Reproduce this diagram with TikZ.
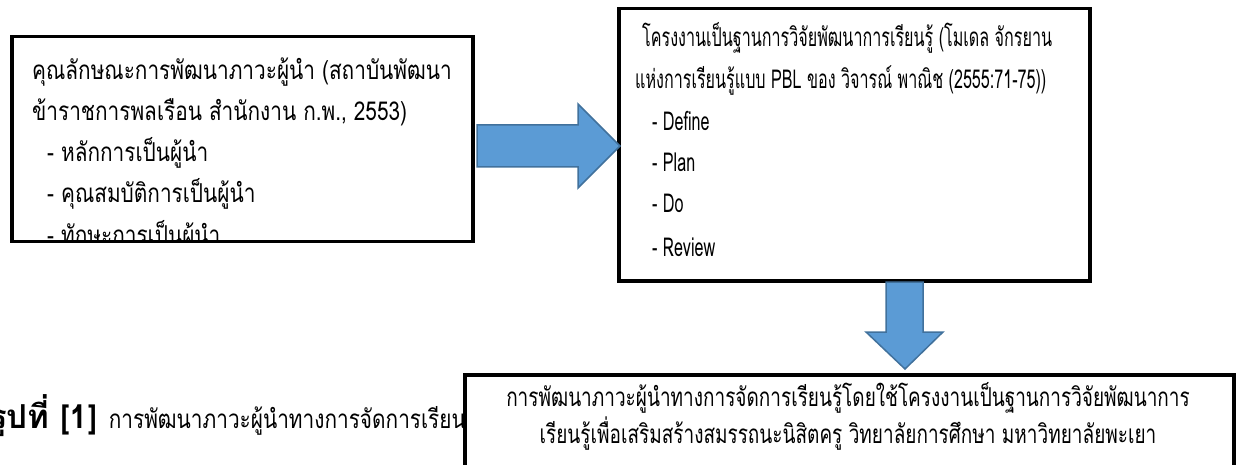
\documentclass[tikz,border=0pt]{standalone}
\usepackage{fontspec}
\usepackage{xcolor}
\newfontfamily\thaiwide[Script=Thai,FakeStretch=0.80]{Loma}
\newfontfamily\thaimid[Script=Thai,FakeStretch=0.73]{Loma}
\newfontfamily\thainarrow[Script=Thai,FakeStretch=0.62]{Loma}
\newfontfamily\thaiplain[Script=Thai]{Loma}
\usetikzlibrary{arrows.meta,positioning,calc}
\definecolor{arrfill}{HTML}{5B9BD5}
\definecolor{arrline}{HTML}{41719C}

\begin{document}
\begin{tikzpicture}[x=1pt,y=-1pt,
  box/.style={draw=black,line width=3.5pt,fill=white,inner sep=0pt,anchor=north west},
  blockarrow/.style={fill=arrfill,draw=arrline,line width=1.5pt},
  txt/.style={anchor=base west,inner sep=0pt,font=\thaiwide\fontsize{26}{30}\selectfont},
  txtn/.style={txt,font=\thainarrow\fontsize{26}{30}\selectfont},
  txtm/.style={txt,anchor=base,font=\thaimid\fontsize{26}{30}\selectfont}]
\useasboundingbox (0,0) rectangle (1237,465);
% caption, its start and end are hidden
\node[txt,anchor=base east] (cap) at (466,428)
  {{\thaiplain\bfseries\fontsize{33}{36}\selectfont รูปที่ [1]}\, การพัฒนาภาวะผู้นำทางการจัดการเรียน};
% boxes
\node[box,minimum width=461,minimum height=205] (boxA) at (10,35) {};
\node[box,minimum width=471,minimum height=272] (boxB) at (617,7) {};
\node[box,minimum width=769,minimum height=130] (boxC) at (463,373) {};
% BOX A (last line cut by the frame)
\begin{scope}
\clip ($(boxA.north west)+(2,2)$) rectangle ($(boxA.south east)+(-2,-2)$);
\node[txt] (a1) at (32,80) {คุณลักษณะการพัฒนาภาวะผู้นำ (สถาบันพัฒนา};
\node[txt] (a2) at (32,121) {ข้าราชการพลเรือน สำนักงาน ก.พ., 2553)};
\foreach \i/\yy/\txt in {3/162/หลักการเป็นผู้นำ, 4/203/คุณสมบัติการเป็นผู้นำ, 5/244/ทักษะการเป็นผู้นำ}{
  \node[txt] (a\i) at (47,\yy) {- \txt};
}
\end{scope}
% BOX B
\node[txtn] (b1) at (642,47) {โครงงานเป็นฐานการวิจัยพัฒนาการเรียนรู้ (โมเดล จักรยาน};
\node[txtn] (b2) at (635,89) {แห่งการเรียนรู้แบบ PBL ของ วิจารณ์ พาณิช (2555:71-75))};
\foreach \i/\yy/\txt in {3/131/Define, 4/172/Plan, 5/213/Do, 6/256/Review}{
  \node[txtn] (b\i) at (652,\yy) {- \txt};
}
% BOX C
\node[txtm] (c1) at (848,406)
  {การพัฒนาภาวะผู้นำทางการจัดการเรียนรู้โดยใช้โครงงานเป็นฐานการวิจัยพัฒนาการ};
\node[txtm] (c2) at (848,443)
  {เรียนรู้เพื่อเสริมสร้างสมรรถนะนิสิตครู วิทยาลัยการศึกษา มหาวิทยาลัยพะเยา};
% block arrows
\draw[blockarrow] (477,125) -- (578,125) -- (578,104) -- (620,146) -- (578,188)
  -- (578,167) -- (477,167) -- cycle;
\draw[blockarrow] (886,282) -- (923,282) -- (923,332) -- (943,332) -- (905,369)
  -- (866,332) -- (886,332) -- cycle;
\end{tikzpicture}
\end{document}
